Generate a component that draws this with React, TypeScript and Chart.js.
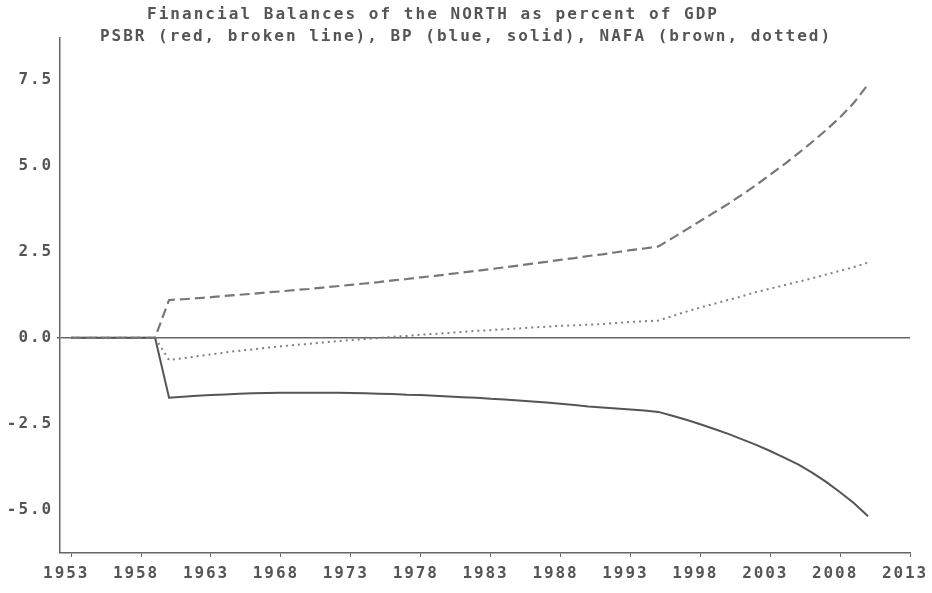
import { useEffect, useRef } from 'react';
import { Chart, registerables } from 'chart.js';

Chart.register(...registerables);

const TITLE_LINE_1 = 'Financial Balances of the NORTH as percent of GDP';
const TITLE_LINE_2 = 'PSBR (red, broken line), BP (blue, solid), NAFA (brown, dotted)';

const YEARS = [
  1953, 1954, 1955, 1956, 1957, 1958, 1959,
  1960, 1961, 1962, 1963, 1964, 1965, 1966, 1967, 1968, 1969,
  1970, 1971, 1972, 1973, 1974, 1975, 1976, 1977, 1978, 1979,
  1980, 1981, 1982, 1983, 1984, 1985, 1986, 1987, 1988, 1989,
  1990, 1991, 1992, 1993, 1994, 1995, 1996, 1997, 1998, 1999,
  2000, 2001, 2002, 2003, 2004, 2005, 2006, 2007, 2008, 2009,
  2010,
];

const PSBR = [
  0, 0, 0, 0, 0, 0, 0,
  1.1, 1.12, 1.15, 1.18, 1.22, 1.25, 1.28, 1.32, 1.35, 1.39,
  1.42, 1.46, 1.5, 1.54, 1.58, 1.62, 1.67, 1.71, 1.76, 1.8,
  1.85, 1.9, 1.95, 2.0, 2.05, 2.1, 2.16, 2.21, 2.27, 2.32,
  2.38, 2.43, 2.49, 2.55, 2.6, 2.66, 2.9, 3.15, 3.4, 3.65,
  3.9, 4.17, 4.45, 4.75, 5.05, 5.37, 5.7, 6.05, 6.42, 6.85,
  7.38,
];

const BP = [
  0, 0, 0, 0, 0, 0, 0,
  -1.75, -1.72, -1.69, -1.67, -1.65, -1.63, -1.62, -1.61, -1.6, -1.6,
  -1.6, -1.6, -1.6, -1.61, -1.62, -1.63, -1.64, -1.66, -1.67, -1.69,
  -1.71, -1.73, -1.75, -1.78, -1.8, -1.83, -1.86, -1.89, -1.92, -1.96,
  -2.0, -2.03, -2.06, -2.09, -2.12, -2.16, -2.27, -2.39, -2.52, -2.66,
  -2.8, -2.96, -3.12, -3.3, -3.49, -3.69, -3.93, -4.2, -4.5, -4.82,
  -5.2,
];

const NAFA = [
  0, 0, 0, 0, 0, 0, 0,
  -0.65, -0.6, -0.54, -0.49, -0.43, -0.38, -0.34, -0.29, -0.25, -0.21,
  -0.18, -0.14, -0.1, -0.07, -0.04, -0.01, 0.03, 0.05, 0.09, 0.11,
  0.14, 0.17, 0.2, 0.22, 0.25, 0.27, 0.3, 0.32, 0.35, 0.36,
  0.38, 0.4, 0.43, 0.46, 0.48, 0.5, 0.63, 0.76, 0.88, 0.99,
  1.1, 1.21, 1.33, 1.43, 1.53, 1.63, 1.73, 1.84, 1.95, 2.06,
  2.19,
];

const X_TICKS = [1953, 1958, 1963, 1968, 1973, 1978, 1983, 1988, 1993, 1998, 2003, 2008, 2013];
const Y_TICKS = [-5, -2.5, 0, 2.5, 5, 7.5];

const TEXT = '#555555';
const AXIS = '#666666';
const FONT_FAMILY = "'DejaVu Sans Mono', monospace";

const toPoints = (vals: number[]) => YEARS.map((y, i) => ({ x: y, y: vals[i] }));

const spacingPlugin = {
  id: 'spacing',
  beforeDraw(chart: any) {
    chart.ctx.letterSpacing = '1.9px';
  },
  afterDraw(chart: any) {
    const ctx = chart.ctx;
    ctx.save();
    ctx.fillStyle = TEXT;
    ctx.textAlign = 'left';
    ctx.textBaseline = 'middle';
    ctx.font = `bold 16px ${FONT_FAMILY}`;
    const draw = (text: string, x: number, y: number, width: number) => {
      ctx.letterSpacing = '0px';
      const w = ctx.measureText(text).width;
      ctx.letterSpacing = `${(width - w) / text.length}px`;
      ctx.fillText(text, x, y);
    };
    draw(TITLE_LINE_1, 147, 15, 572);
    draw(TITLE_LINE_2, 100, 37, 732);
    ctx.restore();
    ctx.letterSpacing = '0px';
  },
};

export default function App() {
  const ref = useRef<HTMLCanvasElement | null>(null);

  useEffect(() => {
    if (!ref.current) return;
    const chart = new Chart(ref.current, {
      type: 'line',
      data: {
        datasets: [
          {
            label: 'PSBR',
            data: toPoints(PSBR),
            borderColor: '#777777',
            borderWidth: 2.2,
            borderDash: [10, 5],
            pointRadius: 0,
            tension: 0,
            fill: false,
          },
          {
            label: 'BP',
            data: toPoints(BP),
            borderColor: '#555555',
            borderWidth: 2,
            pointRadius: 0,
            tension: 0,
            fill: false,
          },
          {
            label: 'NAFA',
            data: toPoints(NAFA),
            borderColor: '#808080',
            borderWidth: 2,
            borderDash: [2, 4],
            pointRadius: 0,
            tension: 0,
            fill: false,
          },
        ],
      },
      options: {
        animation: false,
        responsive: true,
        maintainAspectRatio: false,
        layout: { padding: { top: 38, right: 22, left: 0, bottom: 0 } },
        plugins: {
          legend: { display: false },
          title: { display: false },
          tooltip: { enabled: false },
        },
        scales: {
          x: {
            type: 'linear',
            min: 1952.2,
            max: 2013,
            afterFit: (s: any) => { s.height = 40; s.paddingLeft = 0; s.paddingRight = 0; },
            afterBuildTicks: (s: any) => { s.ticks = X_TICKS.map((v) => ({ value: v })); },
            border: { display: true, color: AXIS, width: 1.5 },
            grid: {
              display: true,
              drawOnChartArea: false,
              drawTicks: true,
              tickLength: 4,
              color: AXIS,
              tickColor: AXIS,
            },
            ticks: {
              color: TEXT,
              font: { family: FONT_FAMILY, size: 16, weight: 'bold' },
              padding: 7,
              maxRotation: 0,
              autoSkip: false,
              labelOffset: -5,
              callback: (v: any) => String(v),
            },
          },
          y: {
            type: 'linear',
            min: -6.27,
            max: 8.73,
            afterFit: (s: any) => { s.width = 60; s.paddingTop = 0; s.paddingBottom = 0; },
            afterBuildTicks: (s: any) => { s.ticks = Y_TICKS.map((v) => ({ value: v })); },
            border: { display: true, color: AXIS, width: 1.5 },
            grid: {
              display: true,
              drawTicks: true,
              tickLength: 3,
              lineWidth: (c: any) => (c.tick && c.tick.value === 0 ? 1.5 : 0),
              color: (c: any) => (c.tick && c.tick.value === 0 ? AXIS : 'rgba(0,0,0,0)'),
              tickColor: AXIS,
            },
            ticks: {
              color: TEXT,
              font: { family: FONT_FAMILY, size: 16, weight: 'bold' },
              padding: 4,
              autoSkip: false,
              callback: (v: any) => Number(v).toFixed(1),
            },
          },
        },
      },
      plugins: [spacingPlugin],
    });
    return () => chart.destroy();
  }, []);

  return (
    <div style={{ position: 'fixed', left: 0, top: 0, width: 932, height: 593, background: '#fff' }}>
      <canvas ref={ref} />
    </div>
  );
}
